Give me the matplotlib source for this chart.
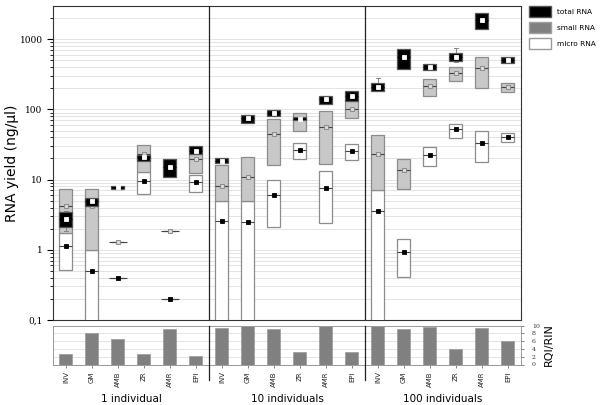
import numpy as np
import matplotlib
matplotlib.use("Agg")
import matplotlib.pyplot as plt
from matplotlib.patches import Patch
from matplotlib.ticker import FixedLocator, LogLocator, NullFormatter

#Categories and groups
tissues = ["INV", "GM", "AMB", "ZR", "AMR", "EPI"] * 3
groups = ["1 individual", "10 individuals", "100 individuals"]

#total RNA: upper, lower, mean (ng/ul)
total_hi = [3.4, 5.5, 8.2, 22.4, 19.5, 29.9, 20.4, 84, 98, 78, 157, 183, 241, 720, 445, 643, 2377, 565]
total_lo = [2.1, 4.25, 7.4, 18.7, 11.0, 22.8, 17.1, 64.5, 81.5, 70, 121, 131, 183, 381, 364, 490, 1389, 457]
total_mid = [2.74, 4.9, 7.8, 20.8, 15.3, 25.4, 18.7, 75, 89.6, 74, 139, 154, 208, 558, 405, 565, 1860, 500]
total_err_hi = [3.6, np.nan, np.nan, np.nan, np.nan, np.nan, np.nan, np.nan, np.nan, np.nan, np.nan, np.nan, 283, np.nan, np.nan, 753, np.nan, np.nan]
total_err_lo = [1.85, np.nan, np.nan, np.nan, np.nan, np.nan, np.nan, np.nan, np.nan, np.nan, np.nan, np.nan, np.nan, np.nan, np.nan, 467, np.nan, np.nan]

#small RNA
small_hi = [7.4, 7.4, 1.29, 31.6, 1.83, 22.8, 16.0, 21.1, 71.9, 89.6, 96, 131, 43.6, 19.7, 268, 405, 565, 241]
small_lo = [1.75, 1.0, 1.29, 12.7, 1.83, 12.4, 5.0, 4.9, 16.2, 49.6, 16.6, 76, 7.0, 7.36, 154, 251, 201, 176]
small_mid = [4.25, 4.15, 1.29, 22.8, 1.83, 19.5, 8.2, 10.8, 44, 73.6, 55.6, 102, 22.8, 13.6, 213, 330, 390, 208]

#micro RNA
micro_hi = [1.75, 1.0, 0.39, 12.7, 0.2, 11.8, 5.0, 4.9, 10, 33, 13.1, 32, 7.0, 1.42, 29.5, 62.9, 49.6, 46.9]
micro_lo = [0.51, 0.05, 0.39, 6.2, 0.2, 6.7, 0.05, 0.05, 2.08, 19.5, 2.4, 19.3, 0.05, 0.407, 15.7, 39.5, 17.9, 34.6]
micro_mid = [1.13, 0.5, 0.39, 9.6, 0.2, 9.1, 2.54, 2.5, 6.05, 26.3, 7.7, 25.7, 3.53, 0.927, 22.4, 51.8, 33.4, 40.8]

#RQI/RIN
rqi = [2.6, 8.1, 6.6, 2.7, 9.1, 2.3, 9.4, 9.9, 9.2, 3.1, 10, 3.2, 9.9, 9.2, 9.7, 4.0, 9.4, 6.1]

x = np.arange(len(tissues))
w = 0.5
edge = "#8c8c8c"

fig = plt.figure(figsize=(6, 4.05), dpi=100)
ax = fig.add_axes([0.0883, 0.210, 0.780, 0.775])
ax2 = fig.add_axes([0.0883, 0.100, 0.780, 0.096])

#series: (hi, lo, mid, box face, box edge, marker face, marker edge, marker size, zorder)
series = [
    (micro_hi, micro_lo, micro_mid, "white", edge, "black", "black", 3.3, 3),
    (small_hi, small_lo, small_mid, "#c8c8c8", edge, "#d8d8d8", "#808080", 2.8, 4),
    (total_hi, total_lo, total_mid, "black", "#555555", "white", "white", 3.0, 5),
]
for hi, lo, mid, fc, ec, mfc, mec, ms, z in series:
    hi = np.array(hi)
    lo = np.array(lo)
    ax.bar(x, hi - lo, bottom=lo, width=w, color=fc, edgecolor=ec, linewidth=0.9, zorder=z)
    ax.hlines(mid, x - w / 2 - 0.1 * (hi == lo), x + w / 2 + 0.1 * (hi == lo),
              colors="#444444" if fc != "black" else "black", linewidth=0.8, zorder=z + 0.1)
    ax.plot(x, mid, linestyle="none", marker="s", markersize=ms, markerfacecolor=mfc,
            markeredgecolor=mec, markeredgewidth=0.6, zorder=z + 0.2)

#error bars on total RNA
for xi, top, bot, h, l in zip(x, total_err_hi, total_err_lo, total_hi, total_lo):
    if not np.isnan(top):
        ax.plot([xi, xi], [h, top], color="#888888", lw=0.7, zorder=4.5)
        ax.plot([xi - 0.08, xi + 0.08], [top, top], color="#888888", lw=0.7, zorder=4.5)
    if not np.isnan(bot):
        ax.plot([xi, xi], [l, bot], color="#888888", lw=0.7, zorder=4.5)
        ax.plot([xi - 0.08, xi + 0.08], [bot, bot], color="#888888", lw=0.7, zorder=4.5)

ax.set_yscale("log")
ax.set_ylim(0.1, 2970)
ax.set_xlim(-0.5, len(tissues) - 0.5)
ax.yaxis.set_major_locator(FixedLocator([0.1, 1, 10, 100, 1000]))
ax.set_yticklabels(["0,1", "1", "10", "100", "1000"], fontsize=6.5, family="DejaVu Serif")
ax.yaxis.set_minor_locator(LogLocator(base=10, subs=np.arange(2, 10)))
ax.yaxis.set_minor_formatter(NullFormatter())
ax.tick_params(axis="y", which="major", length=4, width=0.8, direction="out")
ax.tick_params(axis="y", which="minor", length=2, width=0.6, direction="out")
ax.set_xticks([])
ax.grid(True, which="both", axis="y", color="#e4e4e4", linewidth=0.7, zorder=0)
ax.set_axisbelow(True)
for s in ax.spines.values():
    s.set_color("#333333")
    s.set_linewidth(0.8)
ax.set_ylabel("RNA yield (ng/\u00b5l)", fontsize=10)
ax.yaxis.set_label_coords(-0.072, 0.5)

#group separators
for b in [5.5, 11.5]:
    ax.axvline(b, color="#222222", linewidth=0.9, zorder=6)
    ax2.plot([b, b], [10, -4.0], color="#222222", linewidth=0.9, clip_on=False, zorder=6)

#RQI/RIN panel
ax2.bar(x, rqi, width=w, color="#808080", edgecolor="#a0a0a0", linewidth=0.6, zorder=3)
ax2.set_xlim(-0.5, len(tissues) - 0.5)
ax2.set_ylim(0, 10)
ax2.yaxis.tick_right()
ax2.yaxis.set_label_position("right")
ax2.set_yticks([0, 2, 4, 6, 8, 10])
ax2.set_yticklabels(["0", "2", "4", "6", "8", "10"], fontsize=4.5, family="DejaVu Serif")
ax2.tick_params(axis="y", length=2, width=0.5, pad=6, colors="#555555", labelcolor="#333333")
ax2.set_ylabel("RQI/RIN", fontsize=8, labelpad=3)
ax2.grid(True, axis="y", color="#e4e4e4", linewidth=0.7, zorder=0)
ax2.set_axisbelow(True)
ax2.set_xticks(x)
ax2.set_xticklabels(tissues, rotation=90, fontsize=5)
ax2.tick_params(axis="x", length=2, width=0.5, pad=3, colors="#555555", labelcolor="#222222")
for s in ax2.spines.values():
    s.set_color("#999999")
    s.set_linewidth(0.7)

#group labels
for i, g in enumerate(groups):
    ax2.text(i * 6 + 2.5, -9.0, g, ha="center", va="center", fontsize=7.5, clip_on=False)

#legend
handles = [
    Patch(facecolor="black", edgecolor="#555555", label="total RNA"),
    Patch(facecolor="#808080", edgecolor="#a0a0a0", label="small RNA"),
    Patch(facecolor="white", edgecolor="#999999", label="micro RNA"),
]
fig.legend(handles=handles, loc="upper left", bbox_to_anchor=(0.882, 0.985), frameon=False,
           borderpad=0, borderaxespad=0, fontsize=5.3, handlelength=2.9, handleheight=1.9,
           labelspacing=0.7, handletextpad=0.9)

fig.savefig("out.png", dpi=100)
